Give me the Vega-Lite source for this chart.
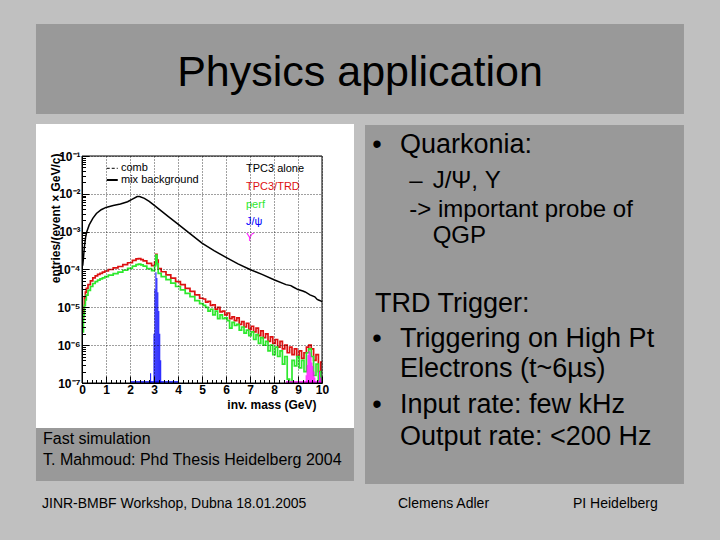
{
 "$schema": "https://vega.github.io/schema/vega-lite/v6.json",
 "width": 240,
 "height": 227,
 "autosize": {"type": "none"},
 "padding": {"left": 82, "top": 156, "right": 398, "bottom": 157},
 "background": "#c0c0c0",
 "config": {"view": {"stroke": null}, "font": "Liberation Sans"},
 "datasets": {
  "panels": [
   {"panel": "title", "x": -1.917, "x2": 25.083, "y": 308, "y2": 1.29},
   {"panel": "caption", "x": -1.917, "x2": 11.333, "y": 6.46e-9, "y2": 2.57e-10},
   {"panel": "notes", "x": 11.792, "x2": 25.083, "y": 0.66, "y2": 2.14e-10},
   {"panel": "figure", "x": -1.917, "x2": 11.333, "y": 0.701, "y2": 6.46e-9}
  ],
  "frame": [{"x": 0, "x2": 10, "y": 1e-7, "y2": 0.1}],
  "curves": [
   {"series": "TPC3 alone", "x": 0.03, "y": 1.26e-4},
   {"series": "TPC3 alone", "x": 0.06, "y": 2.0e-4},
   {"series": "TPC3 alone", "x": 0.1, "y": 4.0e-4},
   {"series": "TPC3 alone", "x": 0.15, "y": 7.1e-4},
   {"series": "TPC3 alone", "x": 0.2, "y": 1.0e-3},
   {"series": "TPC3 alone", "x": 0.3, "y": 1.51e-3},
   {"series": "TPC3 alone", "x": 0.45, "y": 2.24e-3},
   {"series": "TPC3 alone", "x": 0.6, "y": 3.02e-3},
   {"series": "TPC3 alone", "x": 0.8, "y": 3.8e-3},
   {"series": "TPC3 alone", "x": 1.0, "y": 4.37e-3},
   {"series": "TPC3 alone", "x": 1.3, "y": 4.9e-3},
   {"series": "TPC3 alone", "x": 1.6, "y": 5.37e-3},
   {"series": "TPC3 alone", "x": 1.9, "y": 6.17e-3},
   {"series": "TPC3 alone", "x": 2.1, "y": 7.24e-3},
   {"series": "TPC3 alone", "x": 2.3, "y": 8.51e-3},
   {"series": "TPC3 alone", "x": 2.4, "y": 8.51e-3},
   {"series": "TPC3 alone", "x": 2.6, "y": 7.59e-3},
   {"series": "TPC3 alone", "x": 2.8, "y": 6.31e-3},
   {"series": "TPC3 alone", "x": 3.0, "y": 5.01e-3},
   {"series": "TPC3 alone", "x": 3.3, "y": 3.55e-3},
   {"series": "TPC3 alone", "x": 3.6, "y": 2.51e-3},
   {"series": "TPC3 alone", "x": 4.0, "y": 1.58e-3},
   {"series": "TPC3 alone", "x": 4.5, "y": 8.91e-4},
   {"series": "TPC3 alone", "x": 5.0, "y": 5.01e-4},
   {"series": "TPC3 alone", "x": 5.5, "y": 3.16e-4},
   {"series": "TPC3 alone", "x": 6.0, "y": 2.09e-4},
   {"series": "TPC3 alone", "x": 6.5, "y": 1.41e-4},
   {"series": "TPC3 alone", "x": 7.0, "y": 1.0e-4},
   {"series": "TPC3 alone", "x": 7.5, "y": 7.41e-5},
   {"series": "TPC3 alone", "x": 8.0, "y": 5.37e-5},
   {"series": "TPC3 alone", "x": 8.5, "y": 3.98e-5},
   {"series": "TPC3 alone", "x": 8.7, "y": 3.75e-5},
   {"series": "TPC3 alone", "x": 8.8, "y": 3.45e-5},
   {"series": "TPC3 alone", "x": 9.0, "y": 2.95e-5},
   {"series": "TPC3 alone", "x": 9.2, "y": 2.7e-5},
   {"series": "TPC3 alone", "x": 9.3, "y": 2.55e-5},
   {"series": "TPC3 alone", "x": 9.5, "y": 2.14e-5},
   {"series": "TPC3 alone", "x": 9.7, "y": 1.9e-5},
   {"series": "TPC3 alone", "x": 9.8, "y": 1.62e-5},
   {"series": "TPC3 alone", "x": 9.9, "y": 1.52e-5},
   {"series": "TPC3 alone", "x": 10.0, "y": 1.41e-5},

   {"series": "TPC3/TRD", "x": 0.04, "y": 5.01e-6},
   {"series": "TPC3/TRD", "x": 0.08, "y": 1.0e-5},
   {"series": "TPC3/TRD", "x": 0.12, "y": 1.78e-5},
   {"series": "TPC3/TRD", "x": 0.16, "y": 2.51e-5},
   {"series": "TPC3/TRD", "x": 0.2, "y": 3.16e-5},
   {"series": "TPC3/TRD", "x": 0.3, "y": 3.98e-5},
   {"series": "TPC3/TRD", "x": 0.4, "y": 5.01e-5},
   {"series": "TPC3/TRD", "x": 0.5, "y": 6.03e-5},
   {"series": "TPC3/TRD", "x": 0.6, "y": 6.76e-5},
   {"series": "TPC3/TRD", "x": 0.7, "y": 7.41e-5},
   {"series": "TPC3/TRD", "x": 0.8, "y": 7.94e-5},
   {"series": "TPC3/TRD", "x": 0.9, "y": 8.51e-5},
   {"series": "TPC3/TRD", "x": 1.0, "y": 9.12e-5},
   {"series": "TPC3/TRD", "x": 1.2, "y": 1.0e-4},
   {"series": "TPC3/TRD", "x": 1.4, "y": 1.1e-4},
   {"series": "TPC3/TRD", "x": 1.6, "y": 1.2e-4},
   {"series": "TPC3/TRD", "x": 1.8, "y": 1.35e-4},
   {"series": "TPC3/TRD", "x": 2.0, "y": 1.51e-4},
   {"series": "TPC3/TRD", "x": 2.2, "y": 1.74e-4},
   {"series": "TPC3/TRD", "x": 2.3, "y": 1.91e-4},
   {"series": "TPC3/TRD", "x": 2.4, "y": 1.95e-4},
   {"series": "TPC3/TRD", "x": 2.5, "y": 1.82e-4},
   {"series": "TPC3/TRD", "x": 2.6, "y": 1.7e-4},
   {"series": "TPC3/TRD", "x": 2.8, "y": 1.45e-4},
   {"series": "TPC3/TRD", "x": 3.0, "y": 1.26e-4},
   {"series": "TPC3/TRD", "x": 3.05, "y": 1.58e-4},
   {"series": "TPC3/TRD", "x": 3.1, "y": 2.51e-4},
   {"series": "TPC3/TRD", "x": 3.15, "y": 1.78e-4},
   {"series": "TPC3/TRD", "x": 3.2, "y": 1.05e-4},
   {"series": "TPC3/TRD", "x": 3.4, "y": 8.71e-5},
   {"series": "TPC3/TRD", "x": 3.6, "y": 7.24e-5},
   {"series": "TPC3/TRD", "x": 3.8, "y": 5.89e-5},
   {"series": "TPC3/TRD", "x": 4.0, "y": 4.79e-5},
   {"series": "TPC3/TRD", "x": 4.2, "y": 3.98e-5},
   {"series": "TPC3/TRD", "x": 4.4, "y": 3.16e-5},
   {"series": "TPC3/TRD", "x": 4.6, "y": 2.63e-5},
   {"series": "TPC3/TRD", "x": 4.8, "y": 2.14e-5},
   {"series": "TPC3/TRD", "x": 5.0, "y": 1.74e-5},
   {"series": "TPC3/TRD", "x": 5.1, "y": 1.66e-5},
   {"series": "TPC3/TRD", "x": 5.2, "y": 1.38e-5},
   {"series": "TPC3/TRD", "x": 5.3, "y": 1.45e-5},
   {"series": "TPC3/TRD", "x": 5.4, "y": 1.12e-5},
   {"series": "TPC3/TRD", "x": 5.5, "y": 1.17e-5},
   {"series": "TPC3/TRD", "x": 5.6, "y": 8.91e-6},
   {"series": "TPC3/TRD", "x": 5.7, "y": 1.0e-5},
   {"series": "TPC3/TRD", "x": 5.8, "y": 7.59e-6},
   {"series": "TPC3/TRD", "x": 5.9, "y": 7.94e-6},
   {"series": "TPC3/TRD", "x": 6.0, "y": 6.31e-6},
   {"series": "TPC3/TRD", "x": 6.1, "y": 7.08e-6},
   {"series": "TPC3/TRD", "x": 6.2, "y": 5.01e-6},
   {"series": "TPC3/TRD", "x": 6.3, "y": 5.62e-6},
   {"series": "TPC3/TRD", "x": 6.4, "y": 4.47e-6},
   {"series": "TPC3/TRD", "x": 6.5, "y": 5.25e-6},
   {"series": "TPC3/TRD", "x": 6.6, "y": 3.55e-6},
   {"series": "TPC3/TRD", "x": 6.7, "y": 4.17e-6},
   {"series": "TPC3/TRD", "x": 6.8, "y": 3.02e-6},
   {"series": "TPC3/TRD", "x": 6.9, "y": 3.8e-6},
   {"series": "TPC3/TRD", "x": 7.0, "y": 2.63e-6},
   {"series": "TPC3/TRD", "x": 7.1, "y": 3.16e-6},
   {"series": "TPC3/TRD", "x": 7.2, "y": 2.24e-6},
   {"series": "TPC3/TRD", "x": 7.3, "y": 2.82e-6},
   {"series": "TPC3/TRD", "x": 7.4, "y": 1.78e-6},
   {"series": "TPC3/TRD", "x": 7.5, "y": 2.4e-6},
   {"series": "TPC3/TRD", "x": 7.6, "y": 1.58e-6},
   {"series": "TPC3/TRD", "x": 7.7, "y": 2.0e-6},
   {"series": "TPC3/TRD", "x": 7.8, "y": 1.26e-6},
   {"series": "TPC3/TRD", "x": 7.9, "y": 1.66e-6},
   {"series": "TPC3/TRD", "x": 8.0, "y": 1.12e-6},
   {"series": "TPC3/TRD", "x": 8.1, "y": 1.41e-6},
   {"series": "TPC3/TRD", "x": 8.2, "y": 8.91e-7},
   {"series": "TPC3/TRD", "x": 8.3, "y": 1.26e-6},
   {"series": "TPC3/TRD", "x": 8.4, "y": 7.94e-7},
   {"series": "TPC3/TRD", "x": 8.5, "y": 1.0e-6},
   {"series": "TPC3/TRD", "x": 8.6, "y": 6.31e-7},
   {"series": "TPC3/TRD", "x": 8.7, "y": 8.91e-7},
   {"series": "TPC3/TRD", "x": 8.8, "y": 5.62e-7},
   {"series": "TPC3/TRD", "x": 8.9, "y": 7.94e-7},
   {"series": "TPC3/TRD", "x": 9.0, "y": 5.01e-7},
   {"series": "TPC3/TRD", "x": 9.1, "y": 7.08e-7},
   {"series": "TPC3/TRD", "x": 9.2, "y": 4.47e-7},
   {"series": "TPC3/TRD", "x": 9.3, "y": 6.31e-7},
   {"series": "TPC3/TRD", "x": 9.4, "y": 8.91e-7},
   {"series": "TPC3/TRD", "x": 9.5, "y": 1.0e-6},
   {"series": "TPC3/TRD", "x": 9.6, "y": 7.94e-7},
   {"series": "TPC3/TRD", "x": 9.7, "y": 3.98e-7},
   {"series": "TPC3/TRD", "x": 9.8, "y": 5.62e-7},
   {"series": "TPC3/TRD", "x": 9.9, "y": 2.0e-7},
   {"series": "TPC3/TRD", "x": 10.0, "y": 3.55e-7},

   {"series": "perf", "x": 0.04, "y": 2.24e-6},
   {"series": "perf", "x": 0.08, "y": 6.31e-6},
   {"series": "perf", "x": 0.12, "y": 1.12e-5},
   {"series": "perf", "x": 0.16, "y": 1.58e-5},
   {"series": "perf", "x": 0.2, "y": 2.09e-5},
   {"series": "perf", "x": 0.3, "y": 2.82e-5},
   {"series": "perf", "x": 0.4, "y": 3.55e-5},
   {"series": "perf", "x": 0.5, "y": 4.27e-5},
   {"series": "perf", "x": 0.6, "y": 4.79e-5},
   {"series": "perf", "x": 0.7, "y": 5.25e-5},
   {"series": "perf", "x": 0.8, "y": 5.62e-5},
   {"series": "perf", "x": 0.9, "y": 6.03e-5},
   {"series": "perf", "x": 1.0, "y": 6.46e-5},
   {"series": "perf", "x": 1.2, "y": 7.08e-5},
   {"series": "perf", "x": 1.4, "y": 7.76e-5},
   {"series": "perf", "x": 1.6, "y": 8.51e-5},
   {"series": "perf", "x": 1.8, "y": 9.55e-5},
   {"series": "perf", "x": 2.0, "y": 1.07e-4},
   {"series": "perf", "x": 2.2, "y": 1.23e-4},
   {"series": "perf", "x": 2.3, "y": 1.35e-4},
   {"series": "perf", "x": 2.4, "y": 1.38e-4},
   {"series": "perf", "x": 2.5, "y": 1.32e-4},
   {"series": "perf", "x": 2.6, "y": 1.23e-4},
   {"series": "perf", "x": 2.8, "y": 1.05e-4},
   {"series": "perf", "x": 3.0, "y": 9.33e-5},
   {"series": "perf", "x": 3.05, "y": 1.26e-4},
   {"series": "perf", "x": 3.1, "y": 2.4e-4},
   {"series": "perf", "x": 3.15, "y": 1.41e-4},
   {"series": "perf", "x": 3.2, "y": 7.94e-5},
   {"series": "perf", "x": 3.4, "y": 6.46e-5},
   {"series": "perf", "x": 3.6, "y": 5.37e-5},
   {"series": "perf", "x": 3.8, "y": 4.37e-5},
   {"series": "perf", "x": 4.0, "y": 3.55e-5},
   {"series": "perf", "x": 4.2, "y": 2.88e-5},
   {"series": "perf", "x": 4.4, "y": 2.34e-5},
   {"series": "perf", "x": 4.6, "y": 1.91e-5},
   {"series": "perf", "x": 4.8, "y": 1.51e-5},
   {"series": "perf", "x": 5.0, "y": 1.26e-5},
   {"series": "perf", "x": 5.1, "y": 1.12e-5},
   {"series": "perf", "x": 5.2, "y": 1.0e-5},
   {"series": "perf", "x": 5.3, "y": 7.94e-6},
   {"series": "perf", "x": 5.4, "y": 8.91e-6},
   {"series": "perf", "x": 5.5, "y": 6.31e-6},
   {"series": "perf", "x": 5.6, "y": 7.94e-6},
   {"series": "perf", "x": 5.7, "y": 5.01e-6},
   {"series": "perf", "x": 5.8, "y": 6.31e-6},
   {"series": "perf", "x": 5.9, "y": 5.01e-6},
   {"series": "perf", "x": 6.0, "y": 5.25e-6},
   {"series": "perf", "x": 6.1, "y": 4.47e-6},
   {"series": "perf", "x": 6.2, "y": 2.82e-6},
   {"series": "perf", "x": 6.3, "y": 3.98e-6},
   {"series": "perf", "x": 6.4, "y": 3.31e-6},
   {"series": "perf", "x": 6.5, "y": 3.55e-6},
   {"series": "perf", "x": 6.6, "y": 2.51e-6},
   {"series": "perf", "x": 6.7, "y": 3.02e-6},
   {"series": "perf", "x": 6.8, "y": 2.09e-6},
   {"series": "perf", "x": 6.9, "y": 2.51e-6},
   {"series": "perf", "x": 7.0, "y": 1.78e-6},
   {"series": "perf", "x": 7.1, "y": 2.24e-6},
   {"series": "perf", "x": 7.2, "y": 1.41e-6},
   {"series": "perf", "x": 7.3, "y": 1.91e-6},
   {"series": "perf", "x": 7.4, "y": 1.12e-6},
   {"series": "perf", "x": 7.5, "y": 1.58e-6},
   {"series": "perf", "x": 7.6, "y": 1.0e-6},
   {"series": "perf", "x": 7.7, "y": 1.26e-6},
   {"series": "perf", "x": 7.8, "y": 7.08e-7},
   {"series": "perf", "x": 7.9, "y": 1.0e-6},
   {"series": "perf", "x": 8.0, "y": 5.62e-7},
   {"series": "perf", "x": 8.1, "y": 8.91e-7},
   {"series": "perf", "x": 8.2, "y": 5.01e-7},
   {"series": "perf", "x": 8.3, "y": 7.08e-7},
   {"series": "perf", "x": 8.4, "y": 3.16e-7},
   {"series": "perf", "x": 8.5, "y": 5.01e-7},
   {"series": "perf", "x": 8.6, "y": 1.26e-7},
   {"series": "perf", "x": 8.7, "y": 1.0e-7},
   {"series": "perf", "x": 8.8, "y": 3.98e-7},
   {"series": "perf", "x": 8.9, "y": 2.82e-7},
   {"series": "perf", "x": 9.0, "y": 5.01e-7},
   {"series": "perf", "x": 9.1, "y": 2.51e-7},
   {"series": "perf", "x": 9.2, "y": 3.98e-7},
   {"series": "perf", "x": 9.3, "y": 2.0e-7},
   {"series": "perf", "x": 9.4, "y": 6.31e-7},
   {"series": "perf", "x": 9.5, "y": 7.94e-7},
   {"series": "perf", "x": 9.6, "y": 5.01e-7},
   {"series": "perf", "x": 9.7, "y": 1.58e-7},
   {"series": "perf", "x": 9.8, "y": 3.16e-7},
   {"series": "perf", "x": 9.9, "y": 1.0e-7},
   {"series": "perf", "x": 10.0, "y": 2.0e-7}
  ],
  "peaks": [
   {"series": "J/ψ", "x": 2.84, "x2": 2.88, "y": 1.8e-7},
   {"series": "J/ψ", "x": 2.98, "x2": 3.02, "y": 2.0e-6},
   {"series": "J/ψ", "x": 3.02, "x2": 3.06, "y": 3.0e-5},
   {"series": "J/ψ", "x": 3.06, "x2": 3.1, "y": 8.5e-5},
   {"series": "J/ψ", "x": 3.1, "x2": 3.14, "y": 6.0e-5},
   {"series": "J/ψ", "x": 3.14, "x2": 3.18, "y": 2.5e-5},
   {"series": "J/ψ", "x": 3.18, "x2": 3.22, "y": 8.0e-6},
   {"series": "J/ψ", "x": 3.22, "x2": 3.26, "y": 2.0e-6},
   {"series": "J/ψ", "x": 3.26, "x2": 3.3, "y": 4.0e-7},
   {"series": "ϒ", "x": 9.32, "x2": 9.36, "y": 1.6e-7},
   {"series": "ϒ", "x": 9.36, "x2": 9.4, "y": 3.0e-7},
   {"series": "ϒ", "x": 9.4, "x2": 9.44, "y": 5.5e-7},
   {"series": "ϒ", "x": 9.44, "x2": 9.48, "y": 7.0e-7},
   {"series": "ϒ", "x": 9.48, "x2": 9.52, "y": 6.5e-7},
   {"series": "ϒ", "x": 9.52, "x2": 9.56, "y": 5.0e-7},
   {"series": "ϒ", "x": 9.56, "x2": 9.6, "y": 3.5e-7},
   {"series": "ϒ", "x": 9.6, "x2": 9.64, "y": 2.8e-7},
   {"series": "ϒ", "x": 9.64, "x2": 9.68, "y": 2.0e-7},
   {"series": "ϒ", "x": 9.68, "x2": 9.72, "y": 1.4e-7},
   {"series": "ϒ", "x": 9.88, "x2": 9.92, "y": 2.0e-7},
   {"series": "ϒ", "x": 9.92, "x2": 9.96, "y": 1.4e-7}
  ],
  "floors": [
   {"series": "J/ψ", "x": 2.0, "x2": 4.0, "y": 1.06e-7},
   {"series": "ϒ", "x": 8.5, "x2": 10.0, "y": 1.06e-7}
  ],
  "samples": [
   {"kind": "comb", "x": 1.03, "x2": 1.49, "y": 4.73e-2},
   {"kind": "mix", "x": 1.03, "x2": 1.49, "y": 2.32e-2}
  ],
  "texts": [
   {"group": "title", "x": 11.583, "y": 7.08, "label": "Physics application"},
   {"group": "bullet", "x": 12.292, "y": 0.1179, "label": "•"},
   {"group": "bullet", "x": 12.292, "y": 9.108e-7, "label": "•"},
   {"group": "bullet", "x": 12.292, "y": 1.582e-8, "label": "•"},
   {"group": "main", "x": 13.25, "y": 0.1179, "label": "Quarkonia:"},
   {"group": "main", "x": 12.208, "y": 7.664e-6, "label": "TRD Trigger:"},
   {"group": "main", "x": 13.25, "y": 9.108e-7, "label": "Triggering on High Pt"},
   {"group": "main", "x": 13.25, "y": 1.414e-7, "label": "Electrons (t~6µs)"},
   {"group": "main", "x": 13.25, "y": 1.582e-8, "label": "Input rate: few kHz"},
   {"group": "main", "x": 13.25, "y": 2.297e-9, "label": "Output rate: <200 Hz"},
   {"group": "sub", "x": 13.64, "y": 0.014, "label": "–"},
   {"group": "sub", "x": 14.61, "y": 0.014, "label": "J/Ψ, Y"},
   {"group": "sub", "x": 13.64, "y": 2.487e-3, "label": "-> important probe of"},
   {"group": "sub", "x": 14.61, "y": 4.925e-4, "label": "QGP"},
   {"group": "caption", "x": -1.625, "y": 2.397e-9, "label": "Fast simulation"},
   {"group": "caption", "x": -1.625, "y": 6.8e-10, "label": "T. Mahmoud: Phd Thesis Heidelberg 2004"},
   {"group": "footer", "x": -1.667, "y": 4.97e-11, "label": "JINR-BMBF Workshop, Dubna 18.01.2005"},
   {"group": "footer", "x": 13.167, "y": 4.97e-11, "label": "Clemens Adler"},
   {"group": "footer", "x": 20.458, "y": 4.97e-11, "label": "PI Heidelberg"},
   {"group": "keyleft", "x": 1.625, "y": 4.73e-2, "label": "comb"},
   {"group": "keyleft", "x": 1.625, "y": 2.32e-2, "label": "mix background"}
  ],
  "keys": [
   {"series": "TPC3 alone", "x": 6.833, "y": 4.45e-2, "label": "TPC3 alone"},
   {"series": "TPC3/TRD", "x": 6.833, "y": 1.543e-2, "label": "TPC3/TRD"},
   {"series": "perf", "x": 6.833, "y": 5.07e-3, "label": "perf"},
   {"series": "J/ψ", "x": 6.833, "y": 1.834e-3, "label": "J/ψ"},
   {"series": "ϒ", "x": 6.833, "y": 6.68e-4, "label": "ϒ"}
  ]
 },
 "encoding": {
  "x": {
   "field": "x", "type": "quantitative",
   "scale": {"domain": [0, 10], "nice": false, "zero": false},
   "axis": {
    "title": "inv. mass (GeV)",
    "values": [0,0.2,0.4,0.6,0.8,1,1.2,1.4,1.6,1.8,2,2.2,2.4,2.6,2.8,3,3.2,3.4,3.6,3.8,4,4.2,4.4,4.6,4.8,5,5.2,5.4,5.6,5.8,6,6.2,6.4,6.6,6.8,7,7.2,7.4,7.6,7.8,8,8.2,8.4,8.6,8.8,9,9.2,9.4,9.6,9.8,10],
    "labelExpr": "datum.value == round(datum.value) ? format(datum.value, 'd') : ''",
    "labelFlush": false, "labelOverlap": false, "labelBound": false,
    "labelFont": "Liberation Sans", "labelFontSize": 12, "labelFontWeight": "bold", "labelColor": "black",
    "labelPadding": 8,
    "tickColor": "black",
    "tickSize": {"condition": {"test": "datum.value == round(datum.value)", "value": -7}, "value": -3.5},
    "domainColor": "black",
    "grid": true, "gridColor": "#000000", "gridDash": [1, 2],
    "gridOpacity": {"condition": {"test": "datum.value == round(datum.value)", "value": 0.75}, "value": 0},
    "titleFont": "Liberation Sans", "titleFontSize": 12, "titleFontWeight": "bold", "titleColor": "black",
    "titleX": 234, "titleY": 25, "titleAlign": "right", "titleBaseline": "alphabetic",
    "zindex": 1
   }
  },
  "y": {
   "field": "y", "type": "quantitative",
   "scale": {"type": "log", "domain": [1e-7, 0.1], "nice": false},
   "axis": {
    "title": "entries/(event × GeV/c)",
    "values": [1e-7,2e-7,3e-7,4e-7,5e-7,6e-7,7e-7,8e-7,9e-7,1e-6,2e-6,3e-6,4e-6,5e-6,6e-6,7e-6,8e-6,9e-6,1e-5,2e-5,3e-5,4e-5,5e-5,6e-5,7e-5,8e-5,9e-5,1e-4,2e-4,3e-4,4e-4,5e-4,6e-4,7e-4,8e-4,9e-4,1e-3,2e-3,3e-3,4e-3,5e-3,6e-3,7e-3,8e-3,9e-3,1e-2,2e-2,3e-2,4e-2,5e-2,6e-2,7e-2,8e-2,9e-2,1e-1],
    "labelExpr": "abs(log(datum.value)/LN10 - round(log(datum.value)/LN10)) < 0.001 ? '10' + ['⁰','⁻¹','⁻²','⁻³','⁻⁴','⁻⁵','⁻⁶','⁻⁷'][-round(log(datum.value)/LN10)] : ''",
    "labelFlush": false, "labelOverlap": false, "labelBound": false,
    "labelFont": "Liberation Sans", "labelFontSize": 12, "labelFontWeight": "bold", "labelColor": "black",
    "labelPadding": 9,
    "tickColor": "black",
    "tickSize": {"condition": {"test": "abs(log(datum.value)/LN10 - round(log(datum.value)/LN10)) < 0.001", "value": -7}, "value": -3.5},
    "domainColor": "black",
    "grid": true, "gridColor": "#000000", "gridDash": [1, 2],
    "gridOpacity": {"condition": {"test": "abs(log(datum.value)/LN10 - round(log(datum.value)/LN10)) < 0.001", "value": 0.75}, "value": 0},
    "titleFont": "Liberation Sans", "titleFontSize": 12, "titleFontWeight": "bold", "titleColor": "black",
    "titleAngle": 270, "titleX": -27, "titleY": -3, "titleAlign": "right", "titleBaseline": "middle",
    "zindex": 1
   }
  }
 },
 "layer": [
  {
   "data": {"name": "panels"},
   "transform": [{"filter": "datum.panel != 'figure'"}],
   "mark": {"type": "rect", "color": "#999999"},
   "encoding": {"x2": {"field": "x2"}, "y2": {"field": "y2"}}
  },
  {
   "data": {"name": "panels"},
   "transform": [{"filter": "datum.panel == 'figure'"}],
   "mark": {"type": "rect", "color": "#ffffff"},
   "encoding": {"x2": {"field": "x2"}, "y2": {"field": "y2"}}
  },
  {
   "data": {"name": "curves"},
   "transform": [{"filter": "datum.series == 'TPC3 alone'"}],
   "mark": {"type": "line", "strokeWidth": 1.5, "interpolate": "linear"},
   "encoding": {
    "color": {"field": "series", "type": "nominal", "legend": null,
     "scale": {"domain": ["TPC3 alone", "TPC3/TRD", "perf", "J/ψ", "ϒ"], "range": ["#000000", "#dd1111", "#2ee82e", "#0000ff", "#ff00ff"]}}
   }
  },
  {
   "data": {"name": "curves"},
   "transform": [{"filter": "datum.series != 'TPC3 alone'"}],
   "mark": {"type": "line", "strokeWidth": 1.7, "interpolate": "step"},
   "encoding": {
    "color": {"field": "series", "type": "nominal", "legend": null,
     "scale": {"domain": ["TPC3 alone", "TPC3/TRD", "perf", "J/ψ", "ϒ"], "range": ["#000000", "#dd1111", "#2ee82e", "#0000ff", "#ff00ff"]}}
   }
  },
  {
   "data": {"name": "peaks"},
   "mark": {"type": "rect"},
   "encoding": {
    "x2": {"field": "x2"},
    "y2": {"datum": 1e-7},
    "color": {"field": "series", "type": "nominal", "legend": null,
     "scale": {"domain": ["TPC3 alone", "TPC3/TRD", "perf", "J/ψ", "ϒ"], "range": ["#000000", "#dd1111", "#2ee82e", "#0000ff", "#ff00ff"]}}
   }
  },
  {
   "data": {"name": "floors"},
   "mark": {"type": "rule", "strokeWidth": 1.5},
   "encoding": {
    "x2": {"field": "x2"},
    "color": {"field": "series", "type": "nominal", "legend": null,
     "scale": {"domain": ["TPC3 alone", "TPC3/TRD", "perf", "J/ψ", "ϒ"], "range": ["#000000", "#dd1111", "#2ee82e", "#0000ff", "#ff00ff"]}}
   }
  },
  {
   "data": {"name": "frame"},
   "mark": {"type": "rect", "filled": false, "color": "#000000", "strokeWidth": 1},
   "encoding": {"x2": {"field": "x2"}, "y2": {"field": "y2"}}
  },
  {
   "data": {"name": "samples"},
   "transform": [{"filter": "datum.kind == 'comb'"}],
   "mark": {"type": "rule", "color": "#000000", "strokeWidth": 1, "strokeDash": [3, 2]},
   "encoding": {"x2": {"field": "x2"}}
  },
  {
   "data": {"name": "samples"},
   "transform": [{"filter": "datum.kind == 'mix'"}],
   "mark": {"type": "rule", "color": "#000000", "strokeWidth": 2},
   "encoding": {"x2": {"field": "x2"}}
  },
  {
   "data": {"name": "texts"},
   "transform": [{"filter": "datum.group == 'title'"}],
   "mark": {"type": "text", "font": "Liberation Sans", "fontSize": 43, "align": "center", "baseline": "alphabetic", "color": "#000000"},
   "encoding": {"text": {"field": "label"}}
  },
  {
   "data": {"name": "texts"},
   "transform": [{"filter": "datum.group == 'bullet'"}],
   "mark": {"type": "text", "font": "Liberation Sans", "fontSize": 27, "align": "center", "baseline": "alphabetic", "color": "#000000"},
   "encoding": {"text": {"field": "label"}}
  },
  {
   "data": {"name": "texts"},
   "transform": [{"filter": "datum.group == 'main'"}],
   "mark": {"type": "text", "font": "Liberation Sans", "fontSize": 27, "align": "left", "baseline": "alphabetic", "color": "#000000"},
   "encoding": {"text": {"field": "label"}}
  },
  {
   "data": {"name": "texts"},
   "transform": [{"filter": "datum.group == 'sub'"}],
   "mark": {"type": "text", "font": "Liberation Sans", "fontSize": 24, "align": "left", "baseline": "alphabetic", "color": "#000000"},
   "encoding": {"text": {"field": "label"}}
  },
  {
   "data": {"name": "texts"},
   "transform": [{"filter": "datum.group == 'caption'"}],
   "mark": {"type": "text", "font": "Liberation Sans", "fontSize": 16, "align": "left", "baseline": "alphabetic", "color": "#000000"},
   "encoding": {"text": {"field": "label"}}
  },
  {
   "data": {"name": "texts"},
   "transform": [{"filter": "datum.group == 'footer'"}],
   "mark": {"type": "text", "font": "Liberation Sans", "fontSize": 14, "align": "left", "baseline": "alphabetic", "color": "#000000"},
   "encoding": {"text": {"field": "label"}}
  },
  {
   "data": {"name": "texts"},
   "transform": [{"filter": "datum.group == 'keyleft'"}],
   "mark": {"type": "text", "font": "Liberation Sans", "fontSize": 11, "align": "left", "baseline": "middle", "color": "#000000"},
   "encoding": {"text": {"field": "label"}}
  },
  {
   "data": {"name": "keys"},
   "mark": {"type": "text", "font": "Liberation Sans", "fontSize": 11, "align": "left", "baseline": "middle"},
   "encoding": {
    "text": {"field": "label"},
    "color": {"field": "series", "type": "nominal", "legend": null,
     "scale": {"domain": ["TPC3 alone", "TPC3/TRD", "perf", "J/ψ", "ϒ"], "range": ["#000000", "#dd1111", "#2ee82e", "#0000ff", "#ff00ff"]}}
   }
  }
 ]
}
